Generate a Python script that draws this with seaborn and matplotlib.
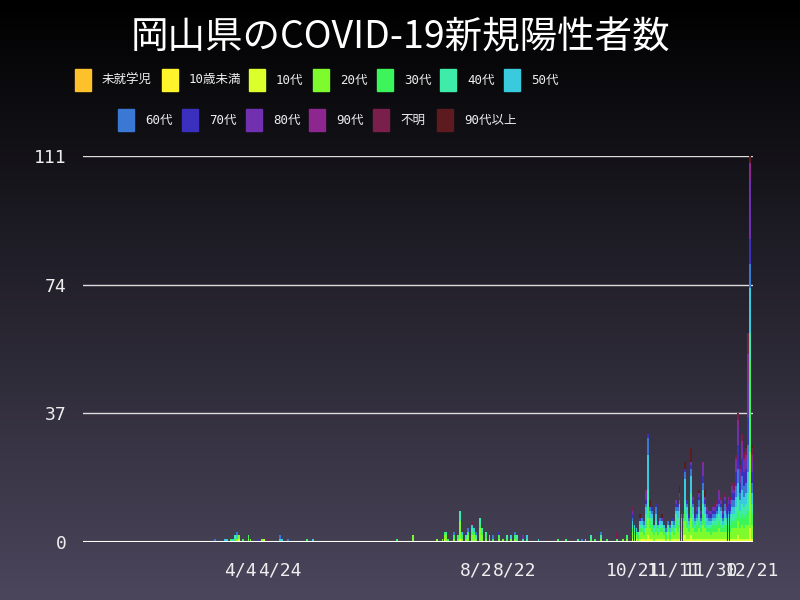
import numpy as np
import pandas as pd
import matplotlib
matplotlib.use("Agg")
import matplotlib.pyplot as plt
from matplotlib.patches import Rectangle
import seaborn as sns

# 表示期間 (2020年)
start = "2020-01-15"
end = "2020-12-21"
late_start = "2020-10-21"

ages = ["未就学児", "10歳未満", "10代", "20代", "30代", "40代", "50代",
        "60代", "70代", "80代", "90代", "不明", "90代以上"]
colors = ["#ffc12b", "#fff42b", "#dbff2b", "#7dfb2d", "#3cf55a", "#3eeba9",
          "#39cade", "#3a78d4", "#3b30bd", "#7030b0", "#8e2690", "#7a1f4b",
          "#5e1b1f"]

tick_dates = ["04-04", "04-24", "08-02", "08-22", "10-21", "11-11", "11-30", "12-21"]
tick_labels = ["4/4", "4/24", "8/2", "8/22", "10/21", "11/11", "11/30", "12/21"]

# 10/20 までの散発的な陽性者 (月-日: 人数)
early_pre = {}
early_u10 = {}
early_10s = {"04-03": 1, "04-16": 1, "07-17": 1, "07-25": 1}
early_20s = {"04-02": 1, "04-03": 1, "04-08": 1, "04-09": 1, "04-15": 1, "07-01": 2,
             "07-13": 1, "07-16": 1, "07-17": 1, "07-18": 2, "07-22": 1, "07-24": 1,
             "07-25": 5, "07-26": 1, "07-28": 1, "07-29": 2, "07-31": 2, "08-01": 2,
             "08-02": 1, "08-04": 4, "08-05": 2, "08-07": 1, "08-09": 1, "08-14": 1,
             "08-16": 1, "08-20": 1, "08-22": 1, "10-05": 1, "10-16": 1, "10-18": 1}
early_30s = {"03-30": 1, "04-01": 1, "04-05": 1, "04-08": 1, "05-08": 1, "06-23": 1,
             "07-17": 1, "07-19": 1, "07-22": 1, "07-24": 1, "07-26": 1, "07-29": 1,
             "07-31": 1, "08-01": 1, "08-04": 1, "08-05": 1, "08-07": 1, "08-09": 1,
             "08-11": 1, "08-14": 1, "08-18": 1, "08-22": 1, "08-23": 1, "09-13": 1,
             "09-17": 1, "09-30": 1, "10-02": 1, "10-08": 1, "10-13": 1, "10-18": 1}
early_40s = {"04-01": 1, "07-18": 1, "07-25": 3, "07-28": 1, "07-31": 1, "08-02": 1,
             "08-04": 2, "08-05": 1, "08-07": 1, "08-18": 1, "08-23": 1, "08-26": 1,
             "08-28": 1, "09-23": 1, "09-27": 1, "09-30": 1, "10-05": 1}
early_50s = {"03-27": 1, "03-28": 1, "03-31": 1, "04-02": 1, "04-24": 1, "04-25": 1,
             "05-11": 1, "07-26": 1, "07-31": 1, "08-01": 1, "08-20": 1, "08-28": 1,
             "09-03": 1}
early_60s = {"03-22": 1, "04-02": 1, "04-24": 1, "04-28": 1, "07-22": 1, "07-29": 1,
             "08-02": 1, "08-11": 1, "08-22": 1, "09-25": 1, "10-05": 1}
early_70s = {"04-13": 1, "07-28": 1, "08-14": 1}
early_80s = {"08-26": 1}
early_90s = {}
early_unk = {"04-18": 1, "07-31": 1, "10-13": 2}
early_o90 = {}

# 10/21 - 12/21 の日別人数
late_pre = [0, 0, 0, 0, 0, 0, 0, 0, 0, 0, 0, 0, 0, 0, 0, 0, 0, 0, 0, 0, 0, 0, 0, 0, 0, 0, 0, 0, 0, 0, 0,
            0, 0, 0, 0, 0, 0, 0, 0, 0, 0, 0, 0, 0, 0, 0, 0, 0, 0, 0, 0, 0, 0, 0, 0, 0, 0, 0, 0, 0, 0, 0]
late_u10 = [0, 0, 0, 0, 0, 1, 0, 0, 1, 0, 0, 0, 0, 0, 0, 0, 0, 0, 0, 0, 0, 0, 0, 0, 0, 0, 1, 0, 0, 0,
            1, 0, 0, 0, 0, 0, 0, 0, 0, 0, 0, 0, 0, 0, 0, 0, 0, 0, 0, 0, 0, 0, 0, 0, 0, 0, 0, 0, 0, 0, 1, 0]
late_10s = [1, 0, 1, 0, 1, 0, 1, 1, 1, 1, 1, 0, 1, 1, 1, 1, 1, 0, 1, 0, 1, 1, 1, 1, 1, 1, 1, 2, 1, 1,
            1, 1, 1, 1, 1, 1, 1, 1, 1, 1, 1, 1, 1, 1, 1, 1, 1, 1, 1, 1, 1, 1, 1, 1, 2, 1, 1, 1, 1, 1, 3, 1]
late_20s = [2, 2, 1, 1, 2, 2, 1, 3, 5, 3, 2, 2, 2, 1, 2, 2, 1, 1, 2, 1, 2, 1, 3, 2, 3, 2, 2, 4, 3, 2,
            5, 3, 2, 2, 3, 2, 4, 3, 2, 2, 1, 2, 2, 2, 3, 2, 2, 2, 2, 2, 2, 3, 3, 3, 4, 3, 4, 3, 4, 4, 22, 4]
late_30s = [1, 1, 1, 1, 1, 1, 1, 2, 3, 2, 2, 1, 2, 1, 1, 1, 1, 1, 1, 1, 1, 1, 2, 2, 2, 2, 1, 3, 2, 1,
            3, 2, 1, 2, 2, 1, 3, 2, 1, 1, 2, 2, 2, 2, 2, 2, 1, 2, 2, 2, 2, 2, 2, 3, 3, 3, 3, 3, 3, 4, 26, 3]
late_40s = [1, 1, 0, 1, 1, 1, 1, 2, 5, 1, 2, 1, 1, 1, 1, 1, 1, 1, 1, 1, 1, 1, 2, 2, 3, 1, 1, 3, 2, 1,
            4, 2, 1, 1, 2, 1, 3, 2, 1, 1, 1, 1, 1, 2, 2, 2, 1, 2, 1, 2, 2, 2, 2, 3, 4, 2, 3, 3, 3, 5, 8, 3]
late_50s = [1, 1, 1, 0, 1, 1, 1, 2, 10, 2, 1, 1, 2, 1, 1, 1, 1, 0, 0, 1, 1, 1, 1, 2, 2, 1, 1, 6, 2, 1,
            5, 2, 1, 1, 2, 1, 4, 2, 2, 1, 1, 1, 1, 1, 2, 2, 1, 2, 1, 1, 1, 2, 2, 3, 4, 3, 4, 3, 3, 6, 13, 3]
late_60s = [1, 0, 0, 0, 0, 1, 1, 1, 5, 1, 1, 0, 2, 0, 1, 0, 0, 1, 1, 1, 0, 1, 1, 1, 1, 1, 1, 2, 1, 1,
            2, 1, 1, 1, 2, 1, 2, 1, 1, 1, 1, 1, 1, 1, 1, 1, 1, 2, 1, 1, 1, 2, 2, 3, 4, 2, 4, 3, 3, 8, 7, 3]
late_70s = [1, 0, 0, 0, 1, 0, 0, 1, 1, 0, 1, 0, 1, 1, 0, 0, 0, 0, 0, 0, 1, 0, 1, 1, 1, 1, 0, 1, 1, 1,
            1, 1, 1, 1, 1, 1, 2, 1, 1, 1, 1, 1, 1, 1, 1, 1, 1, 1, 1, 2, 2, 2, 2, 4, 7, 3, 5, 4, 4, 8, 7, 3]
late_80s = [1, 0, 0, 0, 0, 0, 0, 2, 0, 0, 0, 0, 0, 0, 0, 1, 0, 0, 0, 0, 0, 0, 1, 0, 1, 0, 0, 0, 0, 0,
            1, 1, 0, 1, 1, 1, 3, 1, 1, 1, 1, 1, 1, 1, 2, 1, 1, 1, 1, 1, 1, 2, 1, 3, 5, 3, 4, 3, 3, 10, 17, 3]
late_90s = [0, 0, 0, 0, 0, 0, 0, 1, 0, 0, 0, 0, 0, 0, 0, 0, 0, 0, 0, 0, 0, 0, 0, 0, 0, 0, 0, 0, 0, 0,
            0, 0, 0, 0, 0, 0, 1, 0, 0, 0, 0, 0, 0, 0, 1, 0, 0, 0, 0, 1, 0, 0, 0, 1, 2, 1, 1, 1, 1, 8, 5, 2]
late_unk = [1, 0, 0, 0, 0, 0, 0, 0, 0, 0, 0, 0, 0, 0, 0, 0, 0, 0, 0, 0, 0, 0, 0, 0, 0, 0, 0, 0, 0, 0,
            0, 0, 0, 0, 0, 0, 0, 0, 0, 0, 0, 0, 1, 1, 0, 1, 0, 1, 1, 0, 1, 1, 2, 1, 2, 1, 2, 2, 2, 6, 0, 2]
late_o90 = [0, 0, 0, 0, 1, 0, 0, 0, 0, 2, 0, 0, 0, 0, 0, 1, 0, 0, 0, 0, 0, 0, 0, 0, 2, 0, 0, 2, 0, 0,
            4, 0, 0, 0, 1, 0, 0, 2, 0, 0, 0, 0, 0, 0, 0, 0, 0, 0, 0, 0, 0, 0, 0, 0, 0, 0, 0, 0, 1, 0, 2, 1]

early_data = [early_pre, early_u10, early_10s, early_20s, early_30s, early_40s, early_50s,
              early_60s, early_70s, early_80s, early_90s, early_unk, early_o90]
late_data = [late_pre, late_u10, late_10s, late_20s, late_30s, late_40s, late_50s,
             late_60s, late_70s, late_80s, late_90s, late_unk, late_o90]

# --- 縦持ちデータに変換 ---
days = pd.date_range(start, end)
late_days = pd.date_range(late_start, end)
rows = []
for age, early, late in zip(ages, early_data, late_data):
    for md, n in early.items():
        rows.append((pd.Timestamp("2020-" + md), age, n))
    for d, n in zip(late_days, late):
        rows.append((d, age, n))
df = pd.DataFrame(rows, columns=["date", "age", "count"])
df = df[df["count"] > 0]
df["day"] = (df["date"] - days[0]).dt.days

# --- 描画 ---
fig = plt.figure(figsize=(8, 6), dpi=100)

# 背景グラデーション
bg = fig.add_axes([0, 0, 1, 1], zorder=-10)
grad = np.linspace(0, 1, 256)[:, None]
top = np.array([0.0, 0.0, 0.0])
bottom = np.array([75, 70, 92]) / 255
img = top + grad[..., None] * (bottom - top)
bg.imshow(np.repeat(img, 2, axis=1), aspect="auto", extent=[0, 1, 0, 1], origin="upper")
bg.axis("off")

ax = fig.add_axes([83 / 800, 1 - 542 / 600, 670 / 800, 386 / 600])
ax.set_facecolor("none")

palette = dict(zip(ages, colors))
sns.histplot(data=df, x="day", weights="count", hue="age", hue_order=ages[::-1],
             multiple="stack", discrete=True, palette=palette, shrink=0.95,
             linewidth=0, alpha=1, legend=False, antialiased=False, ax=ax)

ax.set_xlim(-0.5, len(days) - 0.5)
ax.set_ylim(0, 111)
ax.set_yticks([0, 37, 74, 111])
for y in [37, 74, 111]:
    ax.axhline(y, color="#dddddd", lw=1, zorder=0)
ax.axhline(0, color="white", lw=1.5, zorder=5)

tick_pos = [(pd.Timestamp("2020-" + t) - days[0]).days for t in tick_dates]
ax.set_xticks(tick_pos)
ax.set_xticklabels(tick_labels)
ax.tick_params(length=0, colors="#eeeeee", labelsize=13)
ax.tick_params(axis="y", pad=12)
ax.tick_params(axis="x", pad=14)
for lab in ax.get_xticklabels() + ax.get_yticklabels():
    lab.set_family(["DejaVu Sans Mono", "Noto Sans CJK JP"])
ax.set_xlabel("")
ax.set_ylabel("")
for s in ax.spines.values():
    s.set_visible(False)

fig.text(0.5, 1 - 38 / 600, "岡山県のCOVID-19新規陽性者数", ha="center", va="center",
         color="white", fontsize=27, family=["Noto Sans CJK JP", "DejaVu Sans"])

# 凡例 (2段)
legend_rows = [(80, [75, 162, 249, 313, 377, 440, 504]),
               (120, [118, 182, 246, 309, 373, 437])]
i = 0
for yc, xs in legend_rows:
    for x0 in xs:
        fig.add_artist(Rectangle((x0 / 800, 1 - (yc + 10.5) / 600), 16 / 800, 21 / 600,
                                 transform=fig.transFigure, color=colors[i]))
        fig.text((x0 + 27) / 800, 1 - yc / 600, ages[i], ha="left", va="center",
                 color="#eeeeee", fontsize=9,
                 family=["DejaVu Sans Mono", "Noto Sans CJK JP"])
        i += 1

fig.savefig("out.png", dpi=100)
